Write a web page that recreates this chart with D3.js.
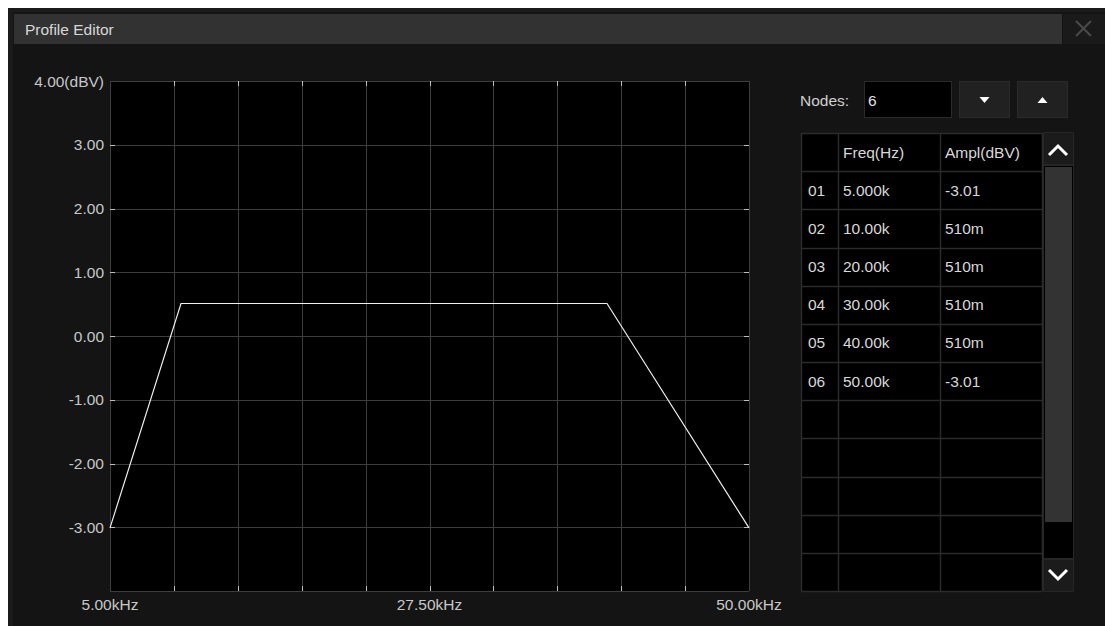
<!DOCTYPE html>
<html><head><meta charset="utf-8">
<script src="https://cdn.jsdelivr.net/npm/d3@7"></script>
<style>
html,body{margin:0;padding:0;background:#fff;}
svg{display:block;font-family:"Liberation Sans",Arial,sans-serif;}
</style></head>
<body>
<svg id="c" width="1105" height="626"></svg>
<script>
// ---- data ----
const nodeIds = ["01","02","03","04","05","06"];
const freqs = [5000, 10000, 20000, 30000, 40000, 50000];
const ampls = [-3.01, 0.51, 0.51, 0.51, 0.51, -3.01];
const freqLabels = ["5.000k","10.00k","20.00k","30.00k","40.00k","50.00k"];
const amplLabels = ["-3.01","510m","510m","510m","510m","-3.01"];
const yTickValues = [4, 3, 2, 1, 0, -1, -2, -3];
const xTickValues = [5000, 27500, 50000];
const xTickLabels = ["5.00kHz", "27.50kHz", "50.00kHz"];
const xDomain = [5000, 50000];
const yDomain = [-4, 4];
const tableRows = 11;

const FS = 15.5;
const svg = d3.select("#c");
// window frame
svg.append("rect").attr("x",8).attr("y",8).attr("width",1097).attr("height",618).attr("fill","#1b1b1b");
svg.append("rect").attr("x",13).attr("y",12).attr("width",1092).attr("height",614).attr("fill","#141414");
// title bar
svg.append("rect").attr("x",14).attr("y",14).attr("width",1048).attr("height",30).attr("fill","#323232");
svg.append("text").attr("x",25).attr("y",35).attr("fill","#d8d8d8").attr("font-size",FS).text("Profile Editor");
// close button
svg.append("rect").attr("x",1063).attr("y",14).attr("width",42).attr("height",30).attr("fill","#1a1a1a");
svg.append("path").attr("d","M1076,21 L1091,36 M1091,21 L1076,36").attr("stroke","#4a4a4a").attr("stroke-width",2);

// ---- plot ----
const x = d3.scaleLinear().domain(xDomain).range([110, 749]);
const y = d3.scaleLinear().domain(yDomain).range([591, 81]);
const g = svg.append("g");
g.append("rect").attr("x",110).attr("y",81).attr("width",639).attr("height",510).attr("fill","#000");

const xGrid = d3.range(0, 11).map(i => xDomain[0] + i*(xDomain[1]-xDomain[0])/10);
const yGrid = d3.range(yDomain[0], yDomain[1]+1, 1);
g.selectAll(".vg").data(xGrid).join("line")
  .attr("x1",d=>Math.round(x(d))+0.5).attr("x2",d=>Math.round(x(d))+0.5)
  .attr("y1",81).attr("y2",591).attr("stroke","#3d3d3d");
g.selectAll(".hg").data(yGrid).join("line")
  .attr("y1",d=>Math.round(y(d))+0.5).attr("y2",d=>Math.round(y(d))+0.5)
  .attr("x1",110).attr("x2",749).attr("stroke","#3d3d3d");
// tick marks
g.selectAll(".vt").data(xGrid.slice(1,-1)).join("path")
  .attr("d",d=>{const xx=Math.round(x(d))+0.5;return `M${xx},81v5M${xx},591v-5`;})
  .attr("stroke","#bdbdbd");
g.selectAll(".ht").data(yTickValues.slice(1)).join("path")
  .attr("d",d=>{const yy=Math.round(y(d))+0.5;return `M110,${yy}h5M749,${yy}h-5`;})
  .attr("stroke","#bdbdbd");

// y labels
g.selectAll(".yl").data(yTickValues).join("text")
  .attr("x",104).attr("y",d=>y(d)+5.5).attr("text-anchor","end")
  .attr("fill","#c8c8c8").attr("font-size",FS)
  .text(d => d===yDomain[1] ? d.toFixed(2)+"(dBV)" : d.toFixed(2));
// x labels
g.selectAll(".xl").data(xTickValues).join("text")
  .attr("x",d=>x(d)).attr("y",610).attr("text-anchor","middle")
  .attr("fill","#c8c8c8").attr("font-size",FS)
  .text((d,i)=>xTickLabels[i]);

// line
const line = d3.line().x((d,i)=>x(freqs[i])).y(d=>y(d));
g.append("path").datum(ampls).attr("d",line).attr("fill","none")
  .attr("stroke","#f0f0f0").attr("stroke-width",1.2);

// ---- right panel ----
svg.append("text").attr("x",800).attr("y",106).attr("fill","#d0d0d0").attr("font-size",FS).text("Nodes:");
svg.append("rect").attr("x",864.5).attr("y",81.5).attr("width",87).attr("height",36).attr("fill","#000").attr("stroke","#2a2a2a");
svg.append("text").attr("x",868).attr("y",106).attr("fill","#e0e0e0").attr("font-size",FS).text(String(freqs.length));
[[959,"down"],[1017,"up"]].forEach(([bx,dir])=>{
  svg.append("rect").attr("x",bx+0.5).attr("y",81.5).attr("width",50).attr("height",36).attr("fill","#212121").attr("stroke","#2a2a2a");
  const cx=bx+25.5, cy=100;
  svg.append("path").attr("d", dir==="down" ? `M${cx-5},${cy-3}h10l-5,6z` : `M${cx-5},${cy+3}h10l-5,-6z`).attr("fill","#fff");
});

// table
const colX = [801, 838, 940, 1042];
const rowTop = 133, rowH = 38.18;
svg.append("rect").attr("x",801).attr("y",133).attr("width",241).attr("height",458).attr("fill","#000");
const tg = svg.append("g");
d3.range(0, tableRows+2).forEach(i=>{
  const yy = Math.round(rowTop + i*rowH)+0.5;
  tg.append("line").attr("x1",801).attr("x2",1042).attr("y1",yy).attr("y2",yy).attr("stroke","#2b2b2b").attr("stroke-width",1.5);
});
colX.forEach(cx=>{
  tg.append("line").attr("x1",cx+0.5).attr("x2",cx+0.5).attr("y1",133).attr("y2",591).attr("stroke","#2b2b2b").attr("stroke-width",1.5);
});
tg.append("text").attr("x",843).attr("y",rowTop+rowH/2+5.5).attr("fill","#d8d8d8").attr("font-size",FS).text("Freq(Hz)");
tg.append("text").attr("x",945).attr("y",rowTop+rowH/2+5.5).attr("fill","#d8d8d8").attr("font-size",FS).text("Ampl(dBV)");
nodeIds.forEach((id,i)=>{
  const yy = rowTop + (i+1)*rowH + rowH/2 + 5.5;
  tg.append("text").attr("x",808).attr("y",yy).attr("fill","#d8d8d8").attr("font-size",FS).text(id);
  tg.append("text").attr("x",843).attr("y",yy).attr("fill","#d8d8d8").attr("font-size",FS).text(freqLabels[i]);
  tg.append("text").attr("x",945).attr("y",yy).attr("fill","#d8d8d8").attr("font-size",FS).text(amplLabels[i]);
});

// scrollbar
svg.append("rect").attr("x",1043.5).attr("y",132.5).attr("width",30).attr("height",32).attr("fill","#1b1b1b").attr("stroke","#262626");
svg.append("path").attr("d","M1049,155 L1058,146 L1067,155").attr("fill","none").attr("stroke","#fff").attr("stroke-width",3);
svg.append("rect").attr("x",1043.5).attr("y",165.5).attr("width",30).attr("height",393).attr("fill","#000").attr("stroke","#262626");
svg.append("rect").attr("x",1045).attr("y",167).attr("width",27).attr("height",355).attr("fill","#333");
svg.append("rect").attr("x",1043.5).attr("y",559.5).attr("width",30).attr("height",32).attr("fill","#1b1b1b").attr("stroke","#262626");
svg.append("path").attr("d","M1049,570 L1058,579 L1067,570").attr("fill","none").attr("stroke","#fff").attr("stroke-width",3);
</script>
</body></html>
